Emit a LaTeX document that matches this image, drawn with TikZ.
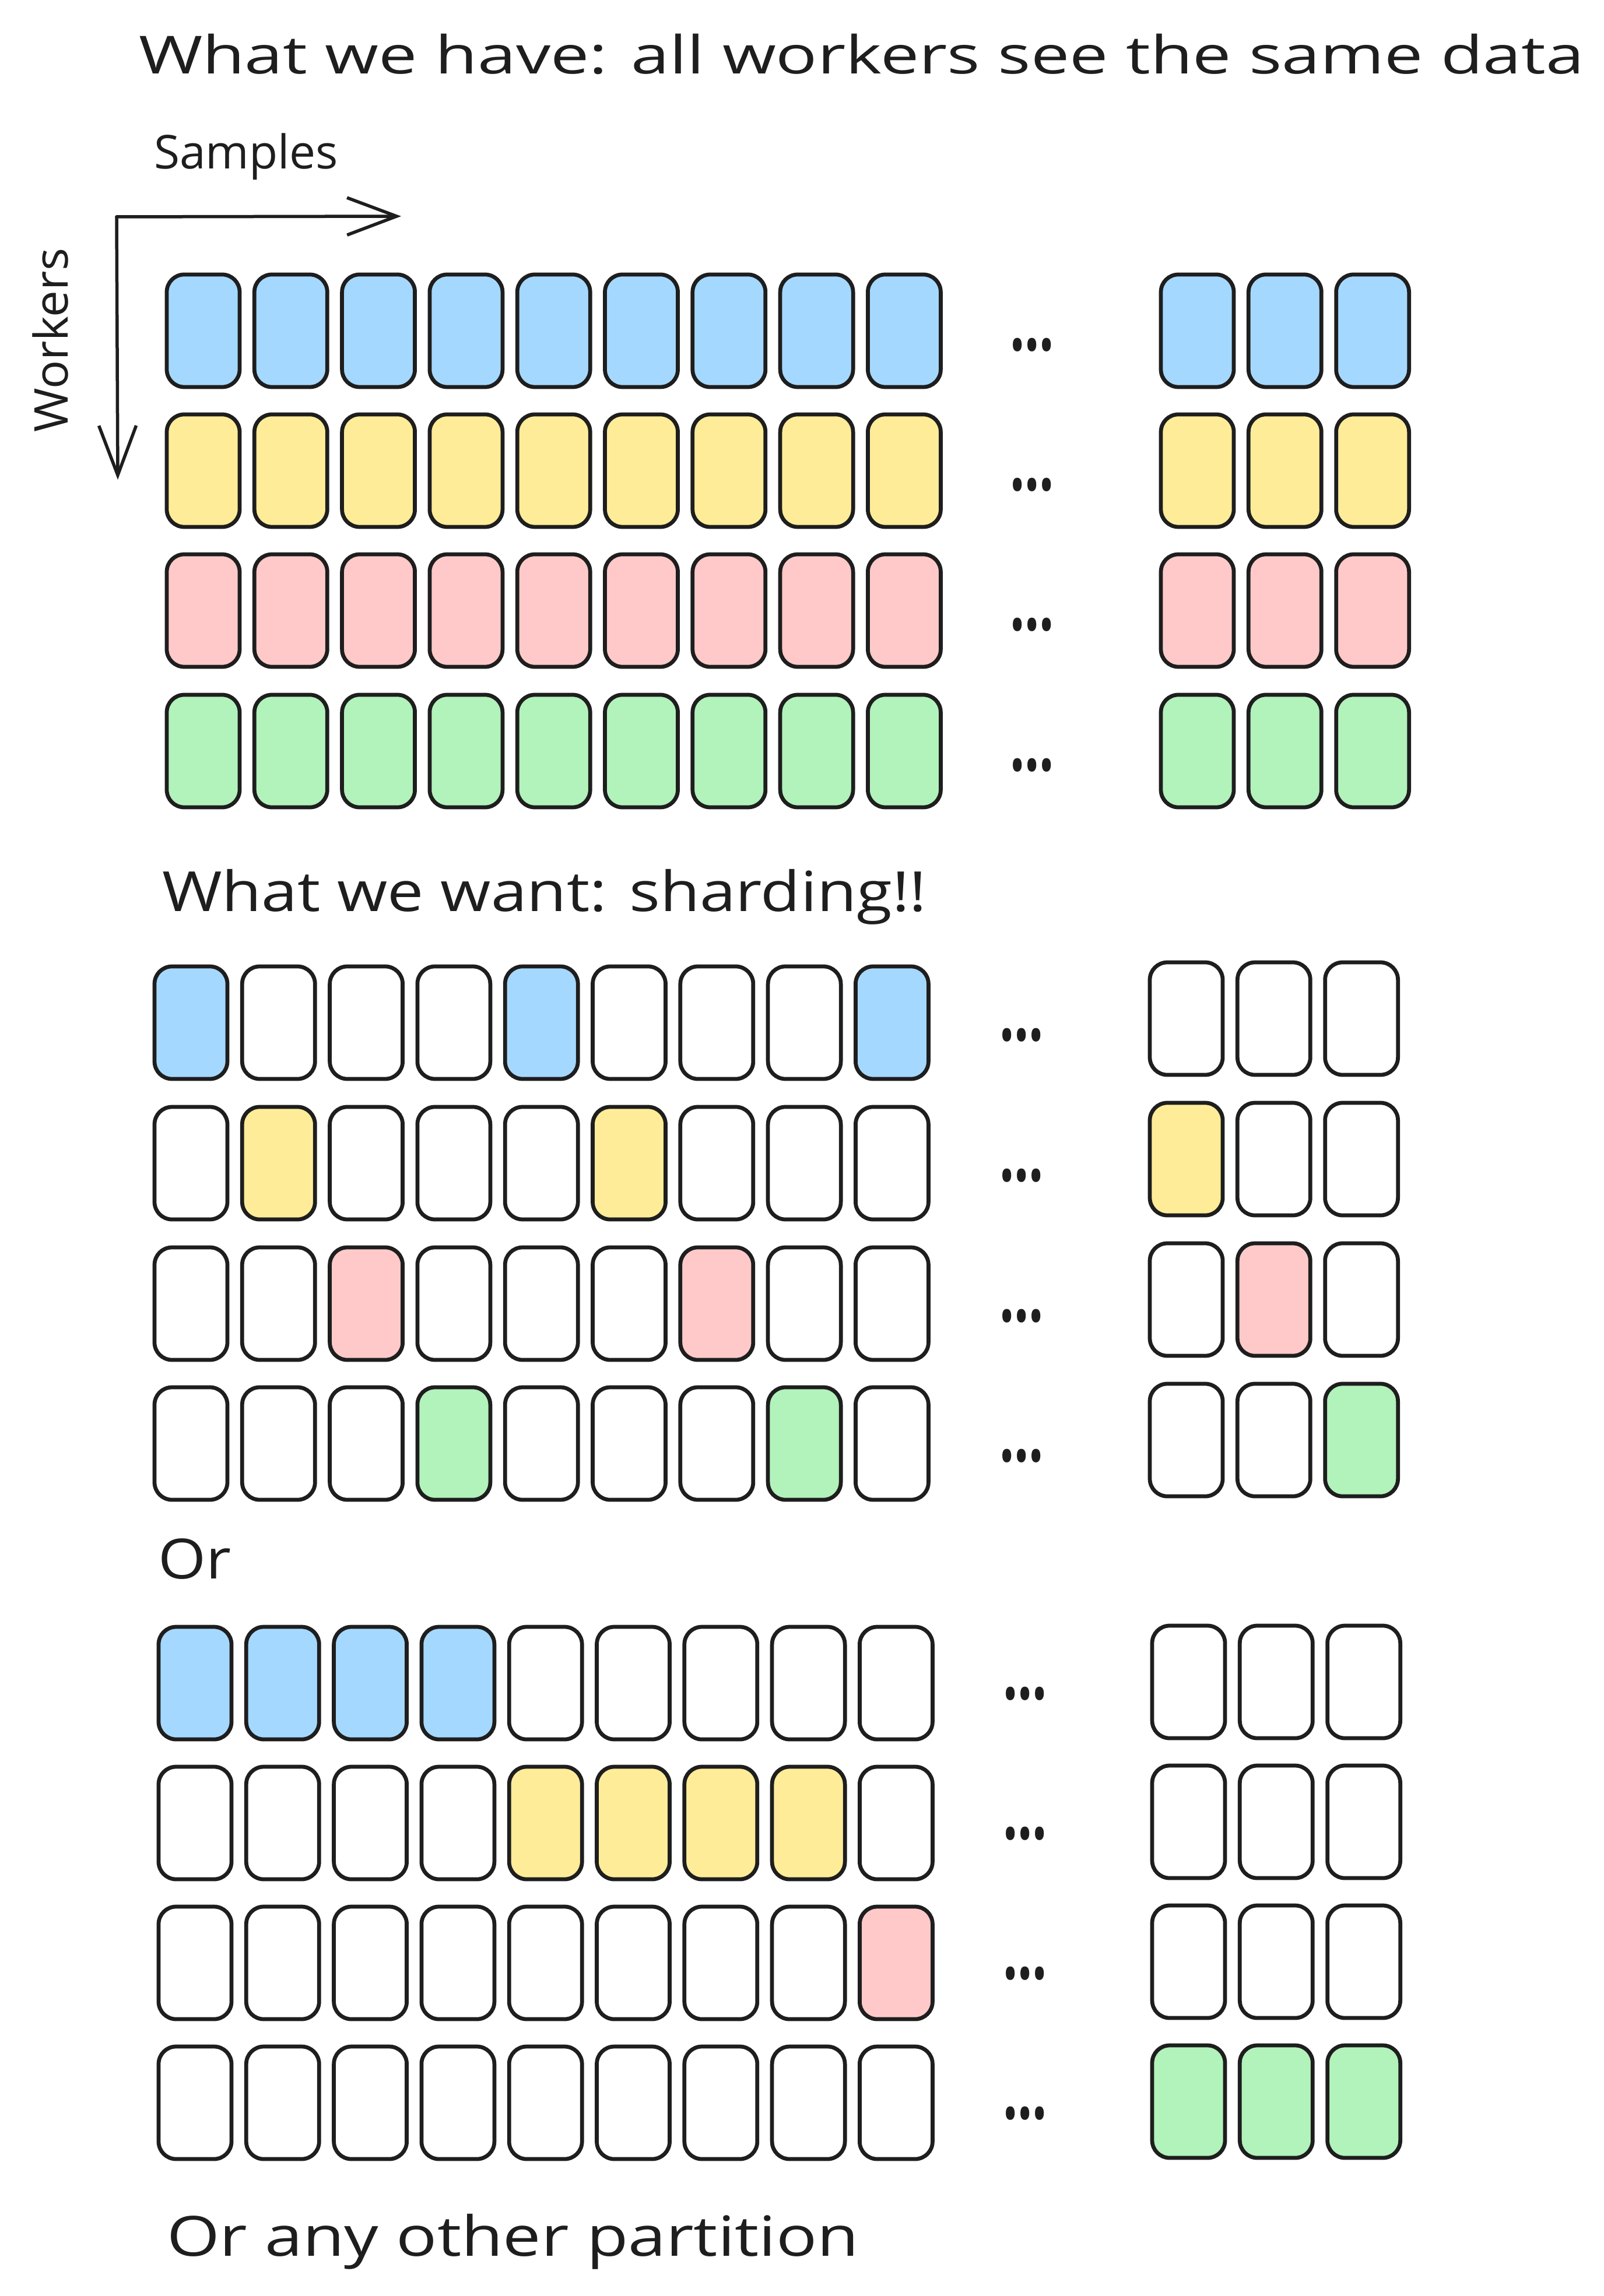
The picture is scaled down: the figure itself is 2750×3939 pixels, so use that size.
\documentclass[tikz,border=0pt]{standalone}
\usepackage{graphicx}
\usepackage{fontspec}
\setmainfont{Open Sans}
\usetikzlibrary{arrows.meta}
\definecolor{ink}{HTML}{1E1E1E}
\definecolor{cb}{HTML}{A5D8FF}
\definecolor{cy}{HTML}{FFEC99}
\definecolor{cr}{HTML}{FFC9C9}
\definecolor{cg}{HTML}{B2F2BB}
\definecolor{cw}{HTML}{FFFFFF}
\newcommand\fittxt[3]{\resizebox{#1}{\height}{\fontsize{#2}{#2}\selectfont #3}}
% #1 name, #2 left x0, #3 right x0, #4 left y top, #5 right y top, #6 dots x, #7 dots y offset, #8 fills
\newcommand\cellrow[8]{%
  \foreach \f [count=\c] in {#8}{%
    \ifnum\c<10
      \node[cell,fill=\f] (#1-\c) at ({#2+65.5+150.3*(\c-1)},{#4+99.5}) {};
    \else
      \node[cell,fill=\f] (#1-\c) at ({#3+65.5+150.3*(\c-10)},{#5+99.5}) {};
    \fi
  }
  \node[dots] (#1-dots) at (#6,{#4+#7}) {\fittxt{15.2pt}{28pt}{...}};
}
\begin{document}
\begin{tikzpicture}[x=0.2pt,y=-0.2pt,
  cell/.style={draw=ink, line width=1.35pt, rounded corners=6pt, minimum width=25pt, minimum height=38.6pt, inner sep=0pt},
  lbl/.style={anchor=base west, inner sep=0pt, text=ink},
  dots/.style={inner sep=0pt, text=ink, font=\bfseries},
  axis/.style={draw=ink, line width=1.1pt, line cap=round, line join=round, -{Straight Barb[length=17pt,width=12.8pt]}}]
\path[use as bounding box, fill=white] (0,0) rectangle (2750,3939);

% texts
\node[lbl] (title) at (237,127) {\fittxt{495.8pt}{18pt}{What we have: all workers see the same data}};
\node[lbl] (samples) at (263,290) {\fittxt{63.2pt}{16pt}{Samples}};
\node[lbl, rotate=90] (workers) at (116,743) {\fittxt{63.2pt}{16pt}{Workers}};
\node[lbl] (want) at (277,1563) {\fittxt{262.2pt}{19pt}{What we want: sharding!!}};
\node[lbl] (or1) at (270,2708) {\fittxt{25pt}{19pt}{Or}};
\node[lbl] (or2) at (285,3870) {\fittxt{237.4pt}{19pt}{Or any other partition}};

% axes
\coordinate (o) at (200,372);
\coordinate (xe) at (688,371);
\coordinate (ye) at (202,823);
\draw[axis] (o) -- (xe);
\draw[axis] (o) -- (ye);

% section 1: all workers see the same data
\cellrow{a1}{283}{1988}{468}{468}{1770}{124}{cb,cb,cb,cb,cb,cb,cb,cb,cb,cb,cb,cb}
\cellrow{a2}{283}{1988}{708}{708}{1770}{124}{cy,cy,cy,cy,cy,cy,cy,cy,cy,cy,cy,cy}
\cellrow{a3}{283}{1988}{948}{948}{1770}{124}{cr,cr,cr,cr,cr,cr,cr,cr,cr,cr,cr,cr}
\cellrow{a4}{283}{1988}{1189}{1189}{1770}{124}{cg,cg,cg,cg,cg,cg,cg,cg,cg,cg,cg,cg}

% section 2: sharding
\cellrow{b1}{262}{1969}{1655}{1648}{1752}{121}{cb,cw,cw,cw,cb,cw,cw,cw,cb,cw,cw,cw}
\cellrow{b2}{262}{1969}{1896}{1889}{1752}{121}{cw,cy,cw,cw,cw,cy,cw,cw,cw,cy,cw,cw}
\cellrow{b3}{262}{1969}{2137}{2130}{1752}{121}{cw,cw,cr,cw,cw,cw,cr,cw,cw,cw,cr,cw}
\cellrow{b4}{262}{1969}{2377}{2371}{1752}{121}{cw,cw,cw,cg,cw,cw,cw,cg,cw,cw,cw,cg}

% section 3: other partition
\cellrow{c1}{269}{1973}{2788}{2786}{1758}{118}{cb,cb,cb,cb,cw,cw,cw,cw,cw,cw,cw,cw}
\cellrow{c2}{269}{1973}{3028}{3026}{1758}{118}{cw,cw,cw,cw,cy,cy,cy,cy,cw,cw,cw,cw}
\cellrow{c3}{269}{1973}{3268}{3266}{1758}{118}{cw,cw,cw,cw,cw,cw,cw,cw,cr,cw,cw,cw}
\cellrow{c4}{269}{1973}{3508}{3506}{1758}{118}{cw,cw,cw,cw,cw,cw,cw,cw,cw,cg,cg,cg}
\end{tikzpicture}
\end{document}
